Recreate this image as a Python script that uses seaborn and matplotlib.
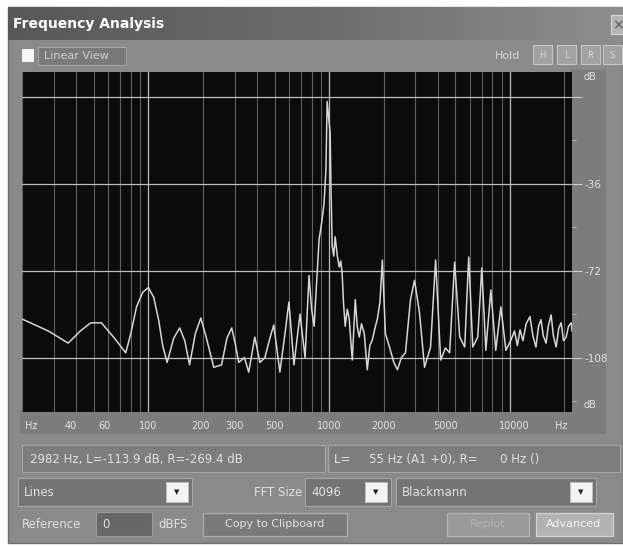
import numpy as np
import pandas as pd
import matplotlib
matplotlib.use("Agg")
import matplotlib.pyplot as plt
import matplotlib.transforms as mtransforms
from matplotlib.patches import Rectangle
import seaborn as sns

# ==============================
# Spectrum data
# ==============================
freq_hz = [
    20, 28, 36, 42, 48, 55, 65, 75, 80, 86, 93, 100, 107, 114, 120, 127,
    138, 149, 159, 169, 182, 195, 208, 230, 254, 272, 289, 302, 316, 340,
    359, 375, 388, 414, 441, 470, 494, 534, 570, 599, 639, 665, 690, 736,
    774, 800, 826, 880, 910, 938, 960, 975, 1013, 1025, 1040, 1060, 1080,
    1110, 1137, 1160, 1180, 1200, 1227, 1260, 1292, 1320, 1343, 1370, 1395,
    1430, 1468, 1510, 1564, 1625, 1680, 1733, 1790, 1848, 1910, 1970, 2047,
    2183, 2280, 2387, 2510, 2644, 2818, 2967, 3162, 3370, 3640, 3880, 4140,
    4400, 4640, 4945, 5275, 5623, 5915, 6230, 6640, 6990, 7360, 7840, 8350,
    8910, 9500, 10130, 10600, 11000, 11370, 11800, 12300, 12910, 13400,
    13930, 14400, 14860, 15300, 15850, 16300, 16900, 17400, 18030, 18600,
    19190, 19800, 20470, 21100, 21830, 22050,
]
level_db = [
    -92, -97, -102, -97, -93.6, -93.6, -100, -106, -98, -87, -81, -79, -83,
    -92.4, -103, -110, -100, -95.7, -101, -111, -98, -91.6, -99, -112, -111,
    -100, -95.7, -102, -110, -108, -114, -106, -99.5, -110, -108, -100, -94.5,
    -114, -98, -85, -111, -100, -90, -108, -74, -88, -95, -59, -52, -44, -30,
    -2, -15, -40, -62, -66, -58, -66, -70.5, -68, -73, -85, -95, -88, -92,
    -102, -109, -96, -84, -95, -99.5, -94, -98, -113, -103, -100.7, -96, -92,
    -85, -67.6, -98, -105, -110, -113, -108, -106, -84, -76, -89.5, -112,
    -103.6, -67.6, -109, -104, -106, -68.5, -99.5, -103.6, -66.4, -103.6,
    -99.5, -70.9, -105, -80, -105, -87, -105, -100.7, -97, -103, -96.5, -101,
    -94, -91, -99, -103.6, -95, -92.3, -99, -102, -95, -90.3, -99, -103.6,
    -96, -93.6, -101, -99.5, -95, -93.6, -97,
]

x_label_freqs = [22.5, 37, 57, 100, 195, 300, 500, 1000, 2000, 4400, 10600, 19300]
x_labels = ["Hz", "40", "60", "100", "200", "300", "500", "1000", "2000", "5000", "10000", "Hz"]

db_ticks = [0, -36, -72, -108]
db_tick_labels = ["", "-36", "-72", "-108"]
db_minor = [-18, -54, -90, -126]

status_left = "2982 Hz, L=-113.9 dB, R=-269.4 dB"
status_right = "L=     55 Hz (A1 +0), R=      0 Hz ()"

spectrum = pd.DataFrame({"freq": freq_hz, "db": level_db})

# ==============================
# Figure + window chrome
# ==============================
W, H = 623, 547
plt.rcParams["font.family"] = ["DejaVu Sans"]
fig = plt.figure(figsize=(W / 100, H / 100), dpi=100)
fig.patch.set_facecolor("white")

TXT = "#e2e2e2"


def rect(x, y, w, h, fc, ec="none", lw=1.0, z=0):
    fig.add_artist(Rectangle((x / W, 1 - (y + h) / H), w / W, h / H,
                             transform=fig.transFigure, fc=fc, ec=ec,
                             lw=lw, zorder=z))


def label(x, y, s, size=8, color=TXT, **kw):
    fig.text(x / W, 1 - y / H, s, fontsize=size, color=color,
             va="center", **kw)


def combo(x, y, w, h, text):
    rect(x, y, w, h, "#747474", ec="#a8a8a8", lw=0.8, z=1)
    rect(x + w - 26, y + 4, 22, h - 8, "#f4f4f4", ec="#c0c0c0", lw=0.6, z=2)
    label(x + w - 15, y + h / 2, "\u25bc", size=5, color="#222222",
          ha="center", zorder=3)
    label(x + 6, y + h / 2, text, size=8.5, zorder=3)


# window body
rect(8, 7, 615, 536, "#8a8a8a", ec="#6e6e6e", lw=1)

# title bar with gradient
tax = fig.add_axes([8 / W, 1 - 40 / H, 615 / W, 33 / H])
grad = np.linspace(0, 1, 256).reshape(1, -1)
tax.imshow(grad, aspect="auto", cmap=matplotlib.colors.LinearSegmentedColormap.from_list(
    "tb", ["#585858", "#6c6c6c", "#8e8e8e"]), extent=[0, 1, 0, 1])
tax.set_axis_off()
label(13, 24, "Frequency Analysis", size=10, color="white", fontweight="bold")
rect(611, 15, 14, 19, "#b4b4b4", ec="#d8d8d8", lw=0.8, z=2)
label(618, 25, "\u00d7", size=10, color="#555555", ha="center", zorder=3)

# Linear view checkbox + hold buttons
rect(22, 49, 12, 13, "#f6f6f6", z=1)
rect(38, 47, 88, 18, "#7a7a7a", ec="#a4a4a4", lw=0.8, z=1)
label(44, 56, "Linear View", size=8, color="#cfcfcf", zorder=2)
label(495, 56, "Hold", size=8, color="#d8d8d8")
for bx, glyph in zip([533, 557, 581, 603], ["H", "L", "R", "S"]):
    rect(bx, 45, 19, 19, "#a2a2a2", ec="#c6c6c6", lw=0.8, z=1)
    label(bx + 9.5, 55, glyph, size=6, color="#dddddd", ha="center", zorder=2)

# axis panels
rect(570, 70, 36, 364, "#7c7c7c", z=1)
rect(20, 410, 586, 24, "#7c7c7c", z=1)

# ==============================
# Spectrum plot
# ==============================
ax = fig.add_axes([22 / W, 1 - 412 / H, 550 / W, 340 / H])
ax.set_facecolor("#0b0b0b")
ax.set_zorder(5)

sns.lineplot(data=spectrum, x="freq", y="db", ax=ax, color="#d6d6d6",
             linewidth=1.1, estimator=None, legend=False)

ax.set_xscale("log")
ax.set_xlim(20, 22050)
ax.set_ylim(-130.5, 10.2)

major_x = [100, 1000, 10000]
minor_x = [m * d for d in (10, 100, 1000, 10000) for m in range(2, 10) if 20 <= m * d <= 22050]
ax.set_xticks(major_x)
ax.set_xticks(minor_x, minor=True)
ax.set_xticklabels([])
ax.tick_params(axis="x", which="both", length=0)

ax.yaxis.tick_right()
ax.set_yticks(db_ticks)
ax.set_yticklabels(db_tick_labels)
ax.set_yticks(db_minor, minor=True)
ax.tick_params(axis="y", which="major", length=7, color="#cfcfcf",
               labelcolor=TXT, labelsize=7.5, pad=2)
ax.tick_params(axis="y", which="minor", length=3, color="#b8b8b8")

ax.grid(which="major", axis="both", color="#bdbdbd", linewidth=0.9)
ax.grid(which="minor", axis="x", color="#626262", linewidth=0.8)
ax.set_axisbelow(True)
ax.set_xlabel("")
ax.set_ylabel("")
for s in ax.spines.values():
    s.set_visible(False)

bt = mtransforms.blended_transform_factory(ax.transData, ax.transAxes)
for f, t in zip(x_label_freqs, x_labels):
    ax.text(f, -0.04, t, transform=bt, ha="center", va="center",
            fontsize=7, color=TXT, clip_on=False)

rt = mtransforms.blended_transform_factory(ax.transAxes, ax.transData)
ax.text(1.02, 8, "dB", transform=rt, fontsize=7, color=TXT, va="center", clip_on=False)
ax.text(1.02, -127.5, "dB", transform=rt, fontsize=7, color=TXT, va="center", clip_on=False)

# ==============================
# Status + control rows
# ==============================
rect(22, 445, 303, 27, "#7d7d7d", ec="#a6a6a6", lw=0.8, z=1)
label(30, 459, status_left, size=8.5, zorder=2)
rect(328, 445, 292, 27, "#7d7d7d", ec="#a6a6a6", lw=0.8, z=1)
label(334, 459, status_right, size=8.5, zorder=2)

combo(18, 478, 174, 28, "Lines")
label(302, 492, "FFT Size", size=8.5, ha="right")
combo(305, 478, 86, 28, "4096")
combo(396, 478, 200, 28, "Blackmann")

label(22, 524, "Reference", size=8.5)
rect(96, 512, 56, 24, "#676767", ec="#9a9a9a", lw=0.8, z=1)
label(102, 524, "0", size=8.5, zorder=2)
label(158, 525, "dBFS", size=8.5)
rect(203, 513, 144, 23, "#7a7a7a", ec="#b0b0b0", lw=0.9, z=1)
label(275, 524, "Copy to Clipboard", size=8, ha="center", zorder=2)
rect(447, 513, 82, 23, "#9a9a9a", ec="#b4b4b4", lw=0.9, z=1)
label(488, 524, "Replot", size=8, color="#b2b2b2", ha="center", zorder=2)
rect(536, 513, 77, 23, "#b2b2b2", ec="#d4d4d4", lw=0.9, z=1)
label(574, 524, "Advanced", size=8, color="#f4f4f4", ha="center", zorder=2)

plt.savefig("out.png", dpi=100, facecolor=fig.get_facecolor())
plt.close()
print("saved out.png")
